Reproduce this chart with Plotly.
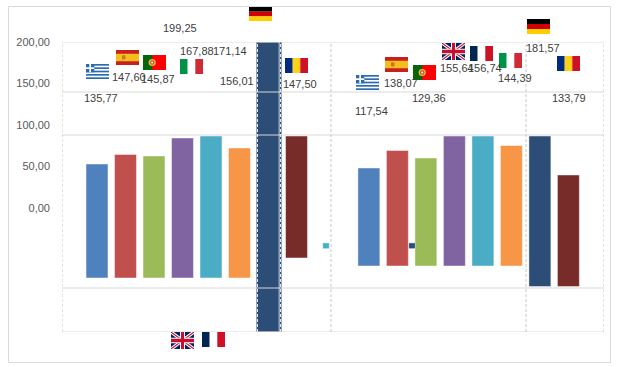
import base64
import plotly.graph_objects as go

# ---- data ----
countries = ["Greece", "Spain", "Portugal", "UK", "Italy", "France", "Germany", "Romania"]
colors = ["#4f81bd", "#c0504d", "#9bbb59", "#8064a2", "#4bacc6", "#f79646", "#2c4d75", "#772c2a"]

group1_top = [53.0, 64.5, 62.7, 84.3, 86.7, 72.3, 200.0, 86.7]
group1_base = [-84.3, -84.3, -84.3, -84.3, -84.3, -84.3, -149.4, -60.2]
group2_top = [48.2, 69.3, 60.2, 86.7, 86.7, 75.3, 86.7, 39.8]
group2_base = [-69.9, -69.9, -69.9, -69.9, -69.9, -69.9, -94.6, -94.6]

y_ticks = [200, 150, 100, 50, 0]
y_labels = ["200,00", "150,00", "100,00", "50,00", "0,00"]

value_labels_1 = ["135,77", "147,60", "145,87", "199,25", "167,88", "171,14", "156,01", "147,50"]
value_labels_2 = ["117,54", "138,07", "129,36", "155,64", "156,74", "144,39", "181,57", "133,79"]

# ---- layout geometry (pixels of the 619x367 page) ----
W, H = 619, 367
L, R, T, B = 62, 604, 42, 332
PITCH = 28.5
FIRST = 97.0
SECOND_START = 9.54
X_MIN, X_MAX = (L - FIRST) / PITCH, (R - FIRST) / PITCH
Y_MAX, Y_MIN = 200.0, -149.4
Y_SCALE = (B - T) / (Y_MAX - Y_MIN)

def xv(px):
    return (px - FIRST) / PITCH

def yv(py):
    return Y_MAX - (py - T) / Y_SCALE

def paper_x(px):
    return (px - L) / (R - L)

def paper_y(py):
    return (B - py) / (B - T)

x1 = list(range(8))
x2 = [SECOND_START + i for i in range(8)]

label_px_1 = [(101, 98), (129, 77), (158, 79), (180, 28), (197, 51), (230, 51), (237, 81), (300, 84)]
label_px_2 = [(371, 111), (401, 83), (429, 98), (457, 68), (485, 68), (515, 78), (543, 48), (569, 98)]

flag_px = [
    ("gr", 86, 64, 23, 15), ("es", 116, 50, 23, 15), ("pt", 143, 55, 23, 15), ("uk", 171, 332, 23, 17),
    ("it", 180, 59, 23, 15), ("fr", 202, 332, 23, 15), ("de", 249, 7, 23, 14), ("ro", 285, 58, 23, 15),
    ("gr", 356, 75, 23, 15), ("es", 385, 57, 23, 15), ("pt", 413, 65, 23, 15), ("uk", 442, 43, 23, 17),
    ("it", 499, 53, 23, 15), ("fr", 470, 46, 23, 15), ("de", 527, 19, 23, 15), ("ro", 557, 56, 23, 15),
]

# ---- flags as inline SVG ----
def svg_uri(body):
    s = ('<svg xmlns="http://www.w3.org/2000/svg" width="230" height="150" viewBox="0 0 23 15" '
         'preserveAspectRatio="none">' + body + '</svg>')
    return "data:image/svg+xml;base64," + base64.b64encode(s.encode()).decode()

def tri(c1, c2, c3):
    return (f'<rect x="0" y="0" width="7.7" height="15" fill="{c1}"/>'
            f'<rect x="7.7" y="0" width="7.6" height="15" fill="{c2}"/>'
            f'<rect x="15.3" y="0" width="7.7" height="15" fill="{c3}"/>')

greek = '<rect width="23" height="15" fill="#fff"/>'
for i in range(0, 9, 2):
    greek += f'<rect y="{i * 15 / 9:.2f}" width="23" height="{15 / 9:.2f}" fill="#2b6cb0"/>'
greek += ('<rect width="8.3" height="8.3" fill="#2b6cb0"/><rect x="3.3" width="1.7" height="8.3" fill="#fff"/>'
          '<rect y="3.3" width="8.3" height="1.7" fill="#fff"/>')

spain = ('<rect width="23" height="15" fill="#c8201c"/><rect y="3.75" width="23" height="7.5" fill="#f5bd1e"/>'
         '<rect x="6" y="5.2" width="3.4" height="4.4" rx="1" fill="#c8742c"/>')

portugal = ('<rect width="23" height="15" fill="#fd0000"/><rect width="9.2" height="15" fill="#056608"/>'
            '<circle cx="9.2" cy="7.5" r="3.6" fill="#e8c12a"/><circle cx="9.2" cy="7.5" r="2.2" fill="#e23b2f"/>'
            '<circle cx="9.2" cy="7.5" r="1.1" fill="#fff"/>')

uk = ('<rect width="23" height="15" fill="#012169"/>'
      '<path d="M0 0L23 15M23 0L0 15" stroke="#fff" stroke-width="3"/>'
      '<path d="M0 0L23 15M23 0L0 15" stroke="#c8102e" stroke-width="1"/>'
      '<path d="M11.5 0V15M0 7.5H23" stroke="#fff" stroke-width="5"/>'
      '<path d="M11.5 0V15M0 7.5H23" stroke="#c8102e" stroke-width="3"/>')

germany = ('<rect width="23" height="5" fill="#000"/><rect y="5" width="23" height="5" fill="#d00000"/>'
           '<rect y="10" width="23" height="5" fill="#ffce00"/>')

flags = {
    "gr": svg_uri(greek),
    "es": svg_uri(spain),
    "pt": svg_uri(portugal),
    "uk": svg_uri(uk),
    "it": svg_uri(tri("#009246", "#ffffff", "#ce2b37")),
    "fr": svg_uri(tri("#002654", "#ffffff", "#ce1126")),
    "de": svg_uri(germany),
    "ro": svg_uri(tri("#002b7f", "#fcd116", "#ce1126")),
}

# ---- figure ----
fig = go.Figure()
EDGE = "rgba(255,255,255,0.45)"

for xs, tops, bases in ((x1, group1_top, group1_base), (x2, group2_top, group2_base)):
    fig.add_trace(go.Bar(
        x=xs,
        y=[t - b for t, b in zip(tops, bases)],
        base=bases,
        width=0.77,
        marker=dict(color=colors, line=dict(color=EDGE, width=1)),
        hoverinfo="skip",
        showlegend=False,
    ))

# small stray marks between the groups
fig.add_trace(go.Bar(x=[xv(326)], y=[7.0], base=[-49.0], width=0.23,
                     marker=dict(color=colors[4], line=dict(color=EDGE, width=1)),
                     hoverinfo="skip", showlegend=False))
fig.add_trace(go.Bar(x=[xv(412)], y=[7.0], base=[-49.0], width=0.23,
                     marker=dict(color=colors[6], line=dict(color=EDGE, width=1)),
                     hoverinfo="skip", showlegend=False))

annotations = []
for texts, pos in ((value_labels_1, label_px_1), (value_labels_2, label_px_2)):
    for text, (px, py) in zip(texts, pos):
        annotations.append(dict(
            text=text, xref="paper", yref="paper", x=paper_x(px), y=paper_y(py),
            xanchor="center", yanchor="middle", showarrow=False,
            borderpad=0, borderwidth=0,
            font=dict(family="Liberation Sans", size=11, color="#404040"),
        ))

shapes = []
GRID = "#d9d9d9"
DASH = "#c8c8c8"
# dark band edges of the tall bar, under its dashed border
for px in (257.5, 280.5):
    shapes.append(dict(type="line", xref="x", yref="y", x0=xv(px), x1=xv(px), y0=Y_MIN, y1=Y_MAX,
                       line=dict(color=colors[6], width=2), layer="above"))
for py in (T, 92, 135, 288, B):
    shapes.append(dict(type="line", xref="x", yref="y", x0=X_MIN, x1=X_MAX, y0=yv(py), y1=yv(py),
                       line=dict(color=GRID, width=1), layer="above"))
for px in (L, 331, 526, R):
    shapes.append(dict(type="line", xref="x", yref="y", x0=xv(px), x1=xv(px), y0=Y_MIN, y1=Y_MAX,
                       line=dict(color=DASH, width=1, dash="3px,2px"), layer="above"))
# dashed border round the tall bar
for px in (257.5, 280.5):
    shapes.append(dict(type="line", xref="x", yref="y", x0=xv(px), x1=xv(px), y0=Y_MIN, y1=Y_MAX,
                       line=dict(color="#dfe6ee", width=1, dash="3px,2px"), layer="above"))
# outer frame
shapes.append(dict(type="rect", xref="paper", yref="paper",
                   x0=paper_x(8.5), x1=paper_x(610.5), y0=paper_y(362.5), y1=paper_y(6.5),
                   line=dict(color="#d9d9d9", width=1), fillcolor="rgba(0,0,0,0)", layer="below"))

images = []
for key, px, py, w, h in flag_px:
    images.append(dict(source=flags[key], xref="paper", yref="paper",
                       x=paper_x(px), y=paper_y(py),
                       sizex=w / (R - L), sizey=h / (B - T),
                       xanchor="left", yanchor="top", sizing="stretch", layer="above"))

fig.update_layout(
    width=W, height=H,
    margin=dict(l=L, r=W - R, t=T, b=H - B, pad=0),
    paper_bgcolor="#ffffff", plot_bgcolor="#ffffff",
    barmode="overlay", showlegend=False,
    shapes=shapes, images=images, annotations=annotations,
    xaxis=dict(range=[X_MIN, X_MAX], showgrid=False, zeroline=False, showline=False,
               showticklabels=False, ticks="", fixedrange=True),
    yaxis=dict(range=[Y_MIN, Y_MAX], showgrid=False, zeroline=False, showline=False,
               tickmode="array", tickvals=y_ticks, ticktext=y_labels, ticks="",
               ticklabelstandoff=11,
               tickfont=dict(family="Liberation Sans", size=11, color="#595959"),
               fixedrange=True),
)

fig.write_html("out.html", config=dict(displayModeBar=False),
               post_script="document.body.style.margin='0';")
